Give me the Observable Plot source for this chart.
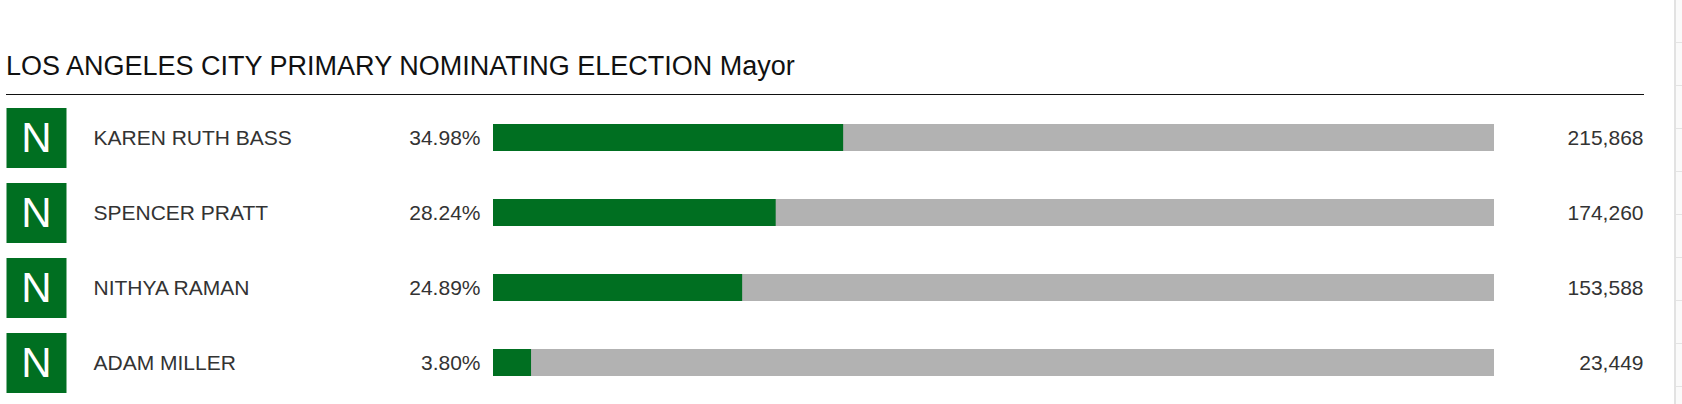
<!DOCTYPE html>
<html>
<head>
<meta charset="utf-8">
<script src="https://cdn.jsdelivr.net/npm/d3@7"></script>
<script src="https://cdn.jsdelivr.net/npm/@observablehq/plot@0.6"></script>
<style>
  html, body { margin: 0; padding: 0; background: #fff; overflow: hidden; }
  body { font-family: "Liberation Sans", Arial, sans-serif; width: 1682px; height: 404px; position: relative; }
  #head { position: relative; height: 100px; }
  #title { position: absolute; left: 6px; top: 53px; font-size: 27px; line-height: 1; color: #111; white-space: nowrap; }
  #rule { position: absolute; left: 6px; top: 94px; width: 1638px; height: 1px; background: #111; }
  #strip { position: absolute; left: 1674px; top: 0; width: 8px; height: 404px;
    border-left: 2px solid #e2e2e2; box-sizing: border-box;
    background-color: #fafafa;
    background-image: repeating-linear-gradient(to bottom, transparent 0px, transparent 42px, #e4e4e4 42px, #e4e4e4 43px);
  }
  #chart svg { display: block; }
</style>
</head>
<body>
<div id="head">
  <div id="title">LOS ANGELES CITY PRIMARY NOMINATING ELECTION Mayor</div>
  <div id="rule"></div>
</div>
<div id="chart"></div>
<div id="strip"></div>
<script>
const candidates = ["KAREN RUTH BASS", "SPENCER PRATT", "NITHYA RAMAN", "ADAM MILLER"];
const percents = [34.98, 28.24, 24.89, 3.80];
const votes = [215868, 174260, 153588, 23449];
const statusLabels = ["N", "N", "N", "N"];
const totalPercent = 100;

const rows = candidates.map((name, i) => ({
  name, pct: percents[i], votes: votes[i], status: statusLabels[i], total: totalPercent
}));

const green = "#006f21";
const gray = "#b2b2b2";
const textColor = "#333";
const fmtVotes = d3.format(",");

const chart = Plot.plot({
  width: 1682,
  height: 300,
  marginTop: 0,
  marginBottom: 0,
  marginLeft: 493,
  marginRight: 188,
  style: { fontFamily: "'Liberation Sans', Arial, sans-serif", background: "transparent" },
  x: { domain: [0, totalPercent], axis: null },
  y: { domain: candidates, paddingInner: 0.64, paddingOuter: 0.32, axis: null },
  marks: [
    Plot.barX(rows, { x1: 0, x2: "total", y: "name", fill: gray }),
    Plot.barX(rows, { x1: 0, x2: "pct", y: "name", fill: green }),
    Plot.dot(rows, { x: 0, y: "name", symbol: "square", r: 33.85, fill: green, stroke: null, dx: -457 }),
    Plot.text(rows, { x: 0, y: "name", text: "status", fill: "#fff", fontSize: 42, textAnchor: "middle", dx: -457, dy: 1 }),
    Plot.text(rows, { x: 0, y: "name", text: "name", fill: textColor, fontSize: 21, textAnchor: "start", dx: -400 }),
    Plot.text(rows, { x: 0, y: "name", text: d => d.pct.toFixed(2) + "%", fill: textColor, fontSize: 21, textAnchor: "end", dx: -13 }),
    Plot.text(rows, { x: "total", y: "name", text: d => fmtVotes(d.votes), fill: textColor, fontSize: 21, textAnchor: "end", dx: 149 })
  ]
});
document.getElementById("chart").appendChild(chart);
</script>
</body>
</html>
